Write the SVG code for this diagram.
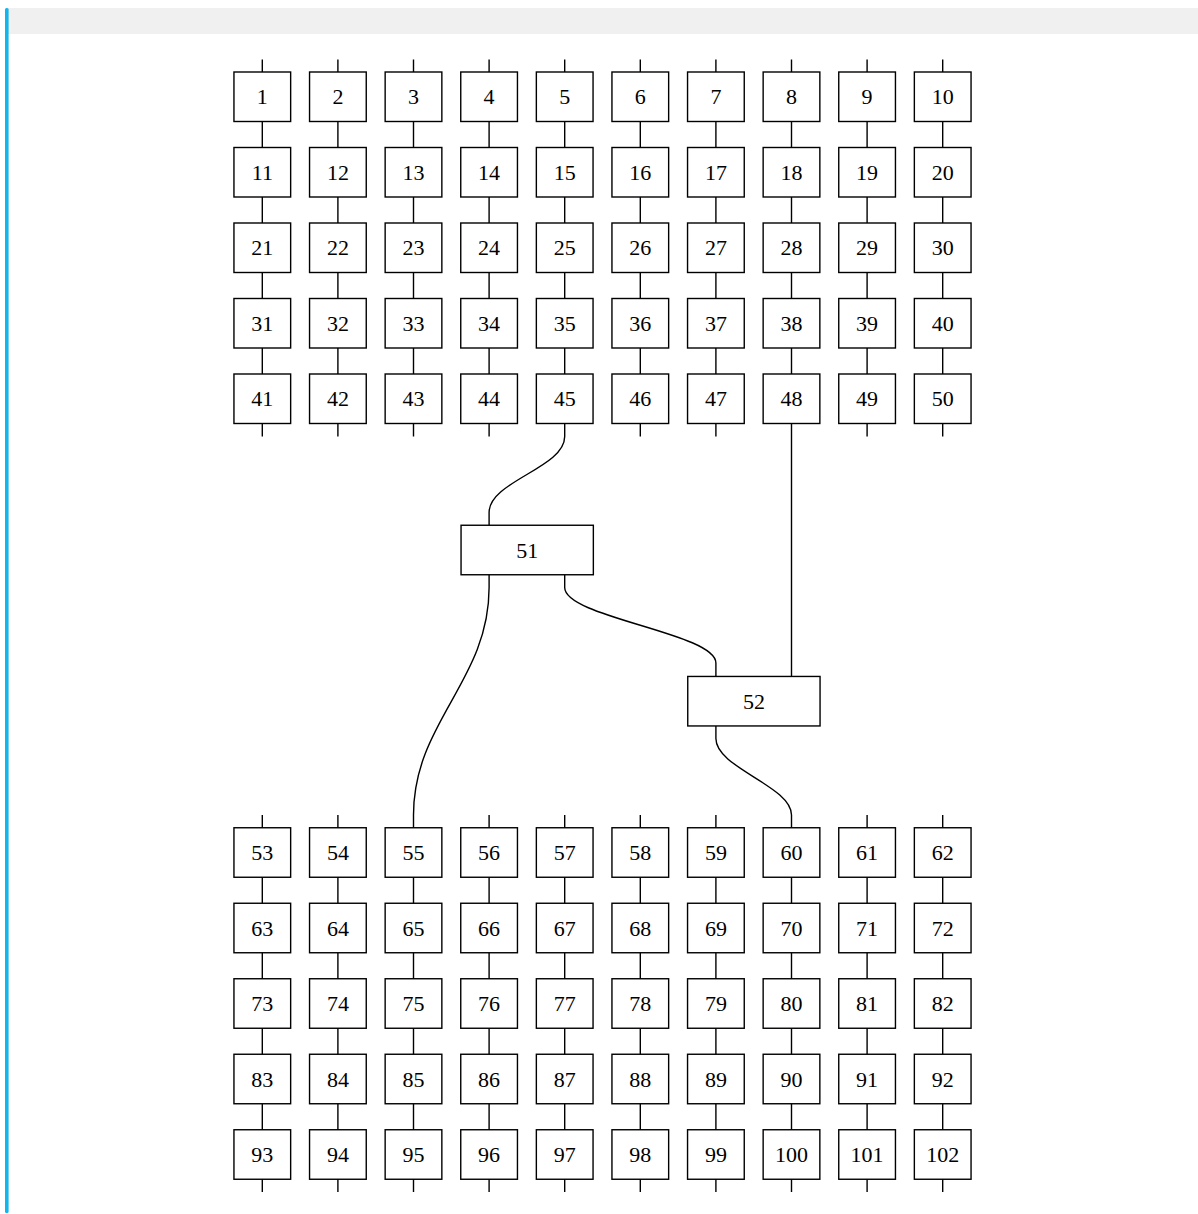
<svg xmlns="http://www.w3.org/2000/svg" width="1198" height="1214" viewBox="0 0 1198 1214">
<style>
.b rect{fill:#fff;stroke:#000;stroke-width:1.4}
.b text{font-family:"Liberation Serif",serif;font-size:22px;text-anchor:middle;fill:#000}
.c path{fill:none;stroke:#000;stroke-width:1.4}
</style>
<rect x="0" y="0" width="1198" height="1214" fill="#fff"/>
<rect x="8" y="8" width="1190" height="26" fill="#f0f0f0"/>
<rect x="5" y="8" width="3.6" height="1205" rx="1.5" fill="#12b6ea"/>
<g id="connectors" class="c">
<path d="M262.3,59.5V436.5M337.9,59.5V436.5M413.5,59.5V436.5M489.1,59.5V436.5M564.7,59.5V423.5M640.3,59.5V436.5M715.9,59.5V436.5M791.5,59.5V423.5M867.1,59.5V436.5M942.7,59.5V436.5"/>
<path d="M262.3,815V1192M337.9,815V1192M413.5,827.75V1192M489.1,815V1192M564.7,815V1192M640.3,815V1192M715.9,815V1192M791.5,827.75V1192M867.1,815V1192M942.7,815V1192"/>
<path d="M564.7,423.5V436.5C564.7,468 489.1,481 489.1,512.5V525.25"/>
<path d="M489.1,574.75V587.5C489.1,681 413.5,722 413.5,815V827.75"/>
<path d="M564.7,574.75V587.5C564.7,617.5 715.9,633 715.9,663V676.45"/>
<path d="M791.5,423.5V676.45"/>
<path d="M715.9,725.95V738.5C715.9,768 791.5,786 791.5,815V827.75"/>
</g>
<g class="b">
<g id="n1" transform="translate(262.3,96.75)"><rect x="-28.35" y="-24.75" width="56.7" height="49.5"/><text y="7.5">1</text></g>
<g id="n2" transform="translate(337.9,96.75)"><rect x="-28.35" y="-24.75" width="56.7" height="49.5"/><text y="7.5">2</text></g>
<g id="n3" transform="translate(413.5,96.75)"><rect x="-28.35" y="-24.75" width="56.7" height="49.5"/><text y="7.5">3</text></g>
<g id="n4" transform="translate(489.1,96.75)"><rect x="-28.35" y="-24.75" width="56.7" height="49.5"/><text y="7.5">4</text></g>
<g id="n5" transform="translate(564.7,96.75)"><rect x="-28.35" y="-24.75" width="56.7" height="49.5"/><text y="7.5">5</text></g>
<g id="n6" transform="translate(640.3,96.75)"><rect x="-28.35" y="-24.75" width="56.7" height="49.5"/><text y="7.5">6</text></g>
<g id="n7" transform="translate(715.9,96.75)"><rect x="-28.35" y="-24.75" width="56.7" height="49.5"/><text y="7.5">7</text></g>
<g id="n8" transform="translate(791.5,96.75)"><rect x="-28.35" y="-24.75" width="56.7" height="49.5"/><text y="7.5">8</text></g>
<g id="n9" transform="translate(867.1,96.75)"><rect x="-28.35" y="-24.75" width="56.7" height="49.5"/><text y="7.5">9</text></g>
<g id="n10" transform="translate(942.7,96.75)"><rect x="-28.35" y="-24.75" width="56.7" height="49.5"/><text y="7.5">10</text></g>
<g id="n11" transform="translate(262.3,172.25)"><rect x="-28.35" y="-24.75" width="56.7" height="49.5"/><text y="7.5">11</text></g>
<g id="n12" transform="translate(337.9,172.25)"><rect x="-28.35" y="-24.75" width="56.7" height="49.5"/><text y="7.5">12</text></g>
<g id="n13" transform="translate(413.5,172.25)"><rect x="-28.35" y="-24.75" width="56.7" height="49.5"/><text y="7.5">13</text></g>
<g id="n14" transform="translate(489.1,172.25)"><rect x="-28.35" y="-24.75" width="56.7" height="49.5"/><text y="7.5">14</text></g>
<g id="n15" transform="translate(564.7,172.25)"><rect x="-28.35" y="-24.75" width="56.7" height="49.5"/><text y="7.5">15</text></g>
<g id="n16" transform="translate(640.3,172.25)"><rect x="-28.35" y="-24.75" width="56.7" height="49.5"/><text y="7.5">16</text></g>
<g id="n17" transform="translate(715.9,172.25)"><rect x="-28.35" y="-24.75" width="56.7" height="49.5"/><text y="7.5">17</text></g>
<g id="n18" transform="translate(791.5,172.25)"><rect x="-28.35" y="-24.75" width="56.7" height="49.5"/><text y="7.5">18</text></g>
<g id="n19" transform="translate(867.1,172.25)"><rect x="-28.35" y="-24.75" width="56.7" height="49.5"/><text y="7.5">19</text></g>
<g id="n20" transform="translate(942.7,172.25)"><rect x="-28.35" y="-24.75" width="56.7" height="49.5"/><text y="7.5">20</text></g>
<g id="n21" transform="translate(262.3,247.75)"><rect x="-28.35" y="-24.75" width="56.7" height="49.5"/><text y="7.5">21</text></g>
<g id="n22" transform="translate(337.9,247.75)"><rect x="-28.35" y="-24.75" width="56.7" height="49.5"/><text y="7.5">22</text></g>
<g id="n23" transform="translate(413.5,247.75)"><rect x="-28.35" y="-24.75" width="56.7" height="49.5"/><text y="7.5">23</text></g>
<g id="n24" transform="translate(489.1,247.75)"><rect x="-28.35" y="-24.75" width="56.7" height="49.5"/><text y="7.5">24</text></g>
<g id="n25" transform="translate(564.7,247.75)"><rect x="-28.35" y="-24.75" width="56.7" height="49.5"/><text y="7.5">25</text></g>
<g id="n26" transform="translate(640.3,247.75)"><rect x="-28.35" y="-24.75" width="56.7" height="49.5"/><text y="7.5">26</text></g>
<g id="n27" transform="translate(715.9,247.75)"><rect x="-28.35" y="-24.75" width="56.7" height="49.5"/><text y="7.5">27</text></g>
<g id="n28" transform="translate(791.5,247.75)"><rect x="-28.35" y="-24.75" width="56.7" height="49.5"/><text y="7.5">28</text></g>
<g id="n29" transform="translate(867.1,247.75)"><rect x="-28.35" y="-24.75" width="56.7" height="49.5"/><text y="7.5">29</text></g>
<g id="n30" transform="translate(942.7,247.75)"><rect x="-28.35" y="-24.75" width="56.7" height="49.5"/><text y="7.5">30</text></g>
<g id="n31" transform="translate(262.3,323.25)"><rect x="-28.35" y="-24.75" width="56.7" height="49.5"/><text y="7.5">31</text></g>
<g id="n32" transform="translate(337.9,323.25)"><rect x="-28.35" y="-24.75" width="56.7" height="49.5"/><text y="7.5">32</text></g>
<g id="n33" transform="translate(413.5,323.25)"><rect x="-28.35" y="-24.75" width="56.7" height="49.5"/><text y="7.5">33</text></g>
<g id="n34" transform="translate(489.1,323.25)"><rect x="-28.35" y="-24.75" width="56.7" height="49.5"/><text y="7.5">34</text></g>
<g id="n35" transform="translate(564.7,323.25)"><rect x="-28.35" y="-24.75" width="56.7" height="49.5"/><text y="7.5">35</text></g>
<g id="n36" transform="translate(640.3,323.25)"><rect x="-28.35" y="-24.75" width="56.7" height="49.5"/><text y="7.5">36</text></g>
<g id="n37" transform="translate(715.9,323.25)"><rect x="-28.35" y="-24.75" width="56.7" height="49.5"/><text y="7.5">37</text></g>
<g id="n38" transform="translate(791.5,323.25)"><rect x="-28.35" y="-24.75" width="56.7" height="49.5"/><text y="7.5">38</text></g>
<g id="n39" transform="translate(867.1,323.25)"><rect x="-28.35" y="-24.75" width="56.7" height="49.5"/><text y="7.5">39</text></g>
<g id="n40" transform="translate(942.7,323.25)"><rect x="-28.35" y="-24.75" width="56.7" height="49.5"/><text y="7.5">40</text></g>
<g id="n41" transform="translate(262.3,398.75)"><rect x="-28.35" y="-24.75" width="56.7" height="49.5"/><text y="7.5">41</text></g>
<g id="n42" transform="translate(337.9,398.75)"><rect x="-28.35" y="-24.75" width="56.7" height="49.5"/><text y="7.5">42</text></g>
<g id="n43" transform="translate(413.5,398.75)"><rect x="-28.35" y="-24.75" width="56.7" height="49.5"/><text y="7.5">43</text></g>
<g id="n44" transform="translate(489.1,398.75)"><rect x="-28.35" y="-24.75" width="56.7" height="49.5"/><text y="7.5">44</text></g>
<g id="n45" transform="translate(564.7,398.75)"><rect x="-28.35" y="-24.75" width="56.7" height="49.5"/><text y="7.5">45</text></g>
<g id="n46" transform="translate(640.3,398.75)"><rect x="-28.35" y="-24.75" width="56.7" height="49.5"/><text y="7.5">46</text></g>
<g id="n47" transform="translate(715.9,398.75)"><rect x="-28.35" y="-24.75" width="56.7" height="49.5"/><text y="7.5">47</text></g>
<g id="n48" transform="translate(791.5,398.75)"><rect x="-28.35" y="-24.75" width="56.7" height="49.5"/><text y="7.5">48</text></g>
<g id="n49" transform="translate(867.1,398.75)"><rect x="-28.35" y="-24.75" width="56.7" height="49.5"/><text y="7.5">49</text></g>
<g id="n50" transform="translate(942.7,398.75)"><rect x="-28.35" y="-24.75" width="56.7" height="49.5"/><text y="7.5">50</text></g>
<g id="n51" transform="translate(527.2,550)"><rect x="-66.15" y="-24.75" width="132.3" height="49.5"/><text y="7.5">51</text></g>
<g id="n52" transform="translate(753.9,701.2)"><rect x="-66.15" y="-24.75" width="132.3" height="49.5"/><text y="7.5">52</text></g>
<g id="n53" transform="translate(262.3,852.5)"><rect x="-28.35" y="-24.75" width="56.7" height="49.5"/><text y="7.5">53</text></g>
<g id="n54" transform="translate(337.9,852.5)"><rect x="-28.35" y="-24.75" width="56.7" height="49.5"/><text y="7.5">54</text></g>
<g id="n55" transform="translate(413.5,852.5)"><rect x="-28.35" y="-24.75" width="56.7" height="49.5"/><text y="7.5">55</text></g>
<g id="n56" transform="translate(489.1,852.5)"><rect x="-28.35" y="-24.75" width="56.7" height="49.5"/><text y="7.5">56</text></g>
<g id="n57" transform="translate(564.7,852.5)"><rect x="-28.35" y="-24.75" width="56.7" height="49.5"/><text y="7.5">57</text></g>
<g id="n58" transform="translate(640.3,852.5)"><rect x="-28.35" y="-24.75" width="56.7" height="49.5"/><text y="7.5">58</text></g>
<g id="n59" transform="translate(715.9,852.5)"><rect x="-28.35" y="-24.75" width="56.7" height="49.5"/><text y="7.5">59</text></g>
<g id="n60" transform="translate(791.5,852.5)"><rect x="-28.35" y="-24.75" width="56.7" height="49.5"/><text y="7.5">60</text></g>
<g id="n61" transform="translate(867.1,852.5)"><rect x="-28.35" y="-24.75" width="56.7" height="49.5"/><text y="7.5">61</text></g>
<g id="n62" transform="translate(942.7,852.5)"><rect x="-28.35" y="-24.75" width="56.7" height="49.5"/><text y="7.5">62</text></g>
<g id="n63" transform="translate(262.3,928)"><rect x="-28.35" y="-24.75" width="56.7" height="49.5"/><text y="7.5">63</text></g>
<g id="n64" transform="translate(337.9,928)"><rect x="-28.35" y="-24.75" width="56.7" height="49.5"/><text y="7.5">64</text></g>
<g id="n65" transform="translate(413.5,928)"><rect x="-28.35" y="-24.75" width="56.7" height="49.5"/><text y="7.5">65</text></g>
<g id="n66" transform="translate(489.1,928)"><rect x="-28.35" y="-24.75" width="56.7" height="49.5"/><text y="7.5">66</text></g>
<g id="n67" transform="translate(564.7,928)"><rect x="-28.35" y="-24.75" width="56.7" height="49.5"/><text y="7.5">67</text></g>
<g id="n68" transform="translate(640.3,928)"><rect x="-28.35" y="-24.75" width="56.7" height="49.5"/><text y="7.5">68</text></g>
<g id="n69" transform="translate(715.9,928)"><rect x="-28.35" y="-24.75" width="56.7" height="49.5"/><text y="7.5">69</text></g>
<g id="n70" transform="translate(791.5,928)"><rect x="-28.35" y="-24.75" width="56.7" height="49.5"/><text y="7.5">70</text></g>
<g id="n71" transform="translate(867.1,928)"><rect x="-28.35" y="-24.75" width="56.7" height="49.5"/><text y="7.5">71</text></g>
<g id="n72" transform="translate(942.7,928)"><rect x="-28.35" y="-24.75" width="56.7" height="49.5"/><text y="7.5">72</text></g>
<g id="n73" transform="translate(262.3,1003.5)"><rect x="-28.35" y="-24.75" width="56.7" height="49.5"/><text y="7.5">73</text></g>
<g id="n74" transform="translate(337.9,1003.5)"><rect x="-28.35" y="-24.75" width="56.7" height="49.5"/><text y="7.5">74</text></g>
<g id="n75" transform="translate(413.5,1003.5)"><rect x="-28.35" y="-24.75" width="56.7" height="49.5"/><text y="7.5">75</text></g>
<g id="n76" transform="translate(489.1,1003.5)"><rect x="-28.35" y="-24.75" width="56.7" height="49.5"/><text y="7.5">76</text></g>
<g id="n77" transform="translate(564.7,1003.5)"><rect x="-28.35" y="-24.75" width="56.7" height="49.5"/><text y="7.5">77</text></g>
<g id="n78" transform="translate(640.3,1003.5)"><rect x="-28.35" y="-24.75" width="56.7" height="49.5"/><text y="7.5">78</text></g>
<g id="n79" transform="translate(715.9,1003.5)"><rect x="-28.35" y="-24.75" width="56.7" height="49.5"/><text y="7.5">79</text></g>
<g id="n80" transform="translate(791.5,1003.5)"><rect x="-28.35" y="-24.75" width="56.7" height="49.5"/><text y="7.5">80</text></g>
<g id="n81" transform="translate(867.1,1003.5)"><rect x="-28.35" y="-24.75" width="56.7" height="49.5"/><text y="7.5">81</text></g>
<g id="n82" transform="translate(942.7,1003.5)"><rect x="-28.35" y="-24.75" width="56.7" height="49.5"/><text y="7.5">82</text></g>
<g id="n83" transform="translate(262.3,1079)"><rect x="-28.35" y="-24.75" width="56.7" height="49.5"/><text y="7.5">83</text></g>
<g id="n84" transform="translate(337.9,1079)"><rect x="-28.35" y="-24.75" width="56.7" height="49.5"/><text y="7.5">84</text></g>
<g id="n85" transform="translate(413.5,1079)"><rect x="-28.35" y="-24.75" width="56.7" height="49.5"/><text y="7.5">85</text></g>
<g id="n86" transform="translate(489.1,1079)"><rect x="-28.35" y="-24.75" width="56.7" height="49.5"/><text y="7.5">86</text></g>
<g id="n87" transform="translate(564.7,1079)"><rect x="-28.35" y="-24.75" width="56.7" height="49.5"/><text y="7.5">87</text></g>
<g id="n88" transform="translate(640.3,1079)"><rect x="-28.35" y="-24.75" width="56.7" height="49.5"/><text y="7.5">88</text></g>
<g id="n89" transform="translate(715.9,1079)"><rect x="-28.35" y="-24.75" width="56.7" height="49.5"/><text y="7.5">89</text></g>
<g id="n90" transform="translate(791.5,1079)"><rect x="-28.35" y="-24.75" width="56.7" height="49.5"/><text y="7.5">90</text></g>
<g id="n91" transform="translate(867.1,1079)"><rect x="-28.35" y="-24.75" width="56.7" height="49.5"/><text y="7.5">91</text></g>
<g id="n92" transform="translate(942.7,1079)"><rect x="-28.35" y="-24.75" width="56.7" height="49.5"/><text y="7.5">92</text></g>
<g id="n93" transform="translate(262.3,1154.5)"><rect x="-28.35" y="-24.75" width="56.7" height="49.5"/><text y="7.5">93</text></g>
<g id="n94" transform="translate(337.9,1154.5)"><rect x="-28.35" y="-24.75" width="56.7" height="49.5"/><text y="7.5">94</text></g>
<g id="n95" transform="translate(413.5,1154.5)"><rect x="-28.35" y="-24.75" width="56.7" height="49.5"/><text y="7.5">95</text></g>
<g id="n96" transform="translate(489.1,1154.5)"><rect x="-28.35" y="-24.75" width="56.7" height="49.5"/><text y="7.5">96</text></g>
<g id="n97" transform="translate(564.7,1154.5)"><rect x="-28.35" y="-24.75" width="56.7" height="49.5"/><text y="7.5">97</text></g>
<g id="n98" transform="translate(640.3,1154.5)"><rect x="-28.35" y="-24.75" width="56.7" height="49.5"/><text y="7.5">98</text></g>
<g id="n99" transform="translate(715.9,1154.5)"><rect x="-28.35" y="-24.75" width="56.7" height="49.5"/><text y="7.5">99</text></g>
<g id="n100" transform="translate(791.5,1154.5)"><rect x="-28.35" y="-24.75" width="56.7" height="49.5"/><text y="7.5">100</text></g>
<g id="n101" transform="translate(867.1,1154.5)"><rect x="-28.35" y="-24.75" width="56.7" height="49.5"/><text y="7.5">101</text></g>
<g id="n102" transform="translate(942.7,1154.5)"><rect x="-28.35" y="-24.75" width="56.7" height="49.5"/><text y="7.5">102</text></g>
</g>
</svg>
